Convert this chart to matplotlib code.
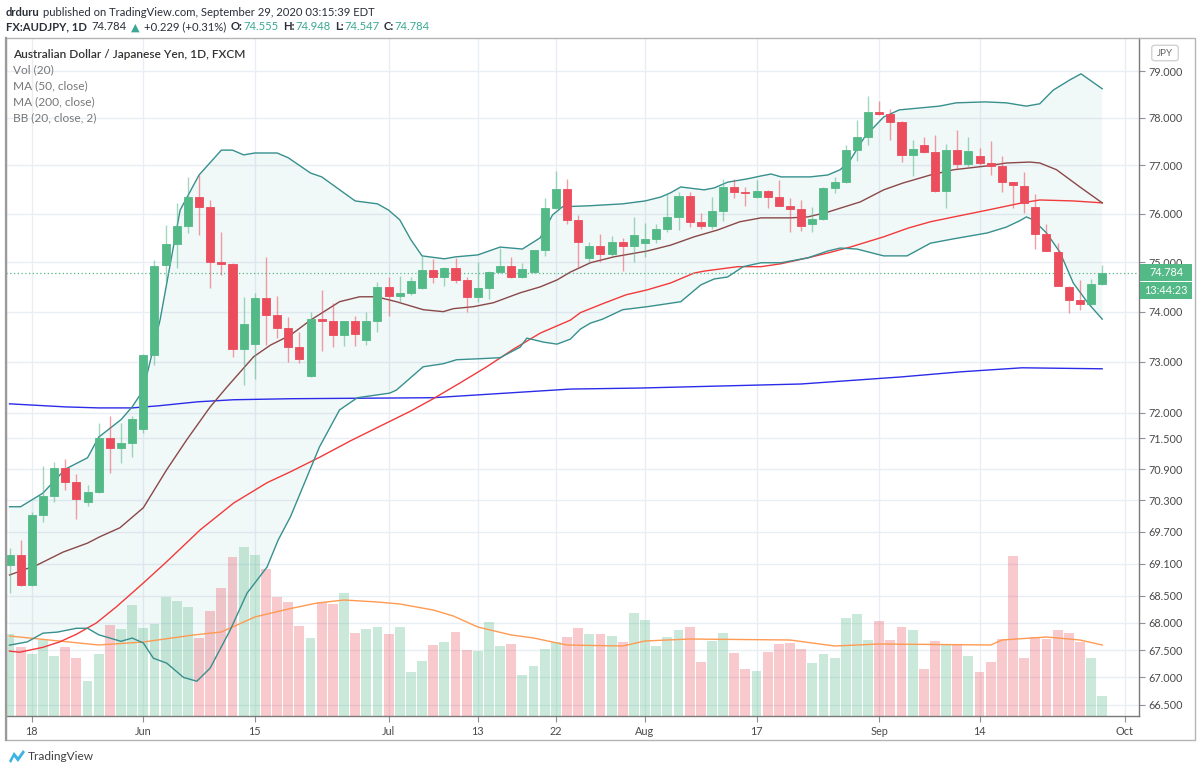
import numpy as np
import pandas as pd
import matplotlib
matplotlib.use('Agg')
import matplotlib.pyplot as plt
from matplotlib.patches import Polygon, Rectangle, FancyBboxPatch
from matplotlib import transforms
from matplotlib.ticker import NullLocator, NullFormatter

# ---------------- data ----------------
start_date = '2020-05-14'
end_date = '2020-09-29'

opens = [69.08, 69.27, 68.71, 70.02, 70.39, 70.92, 70.65, 70.27, 70.46, 71.50,
         71.31, 71.41, 71.68, 73.13, 74.95, 75.37, 75.74, 76.34, 76.14, 75.00,
         74.97, 73.25, 73.35, 74.28, 73.93, 73.67, 73.29, 72.72, 73.85, 73.81,
         73.53, 73.81, 73.43, 73.81, 74.50, 74.32, 74.38, 74.48, 74.84, 74.70,
         74.89, 74.64, 74.30, 74.48, 74.80, 74.93, 74.70, 74.80, 75.25, 76.11,
         76.51, 75.87, 75.09, 75.33, 75.17, 75.42, 75.33, 75.39, 75.48, 75.68,
         75.93, 76.36, 75.83, 75.74, 76.05, 76.55, 76.45, 76.34, 76.47, 76.34,
         76.16, 76.09, 75.79, 75.89, 76.53, 76.65, 77.32, 77.60, 78.13, 78.08,
         77.92, 77.22, 77.43, 77.28, 76.47, 77.32, 77.03, 77.20, 77.05, 76.99,
         76.65, 76.57, 76.14, 75.58, 75.21, 74.50, 74.24, 74.16, 74.555]
highs = [69.40, 69.55, 70.08, 70.96, 71.04, 71.10, 70.81, 70.60, 71.80, 71.93,
         71.80, 71.93, 73.15, 75.05, 75.77, 76.22, 76.76, 76.80, 76.28, 75.62,
         74.99, 74.30, 74.38, 75.11, 74.32, 73.89, 73.59, 74.00, 74.44, 74.18,
         73.82, 73.91, 74.00, 74.60, 74.70, 74.72, 74.70, 75.13, 75.07, 74.91,
         75.09, 74.70, 75.01, 74.82, 75.29, 75.11, 74.99, 75.26, 76.32, 76.88,
         76.72, 75.97, 75.42, 75.58, 75.54, 75.50, 75.93, 75.81, 75.79, 76.40,
         76.45, 76.45, 76.01, 76.34, 76.72, 76.72, 76.55, 76.70, 76.49, 76.70,
         76.32, 76.28, 76.14, 76.55, 76.76, 77.43, 77.96, 78.47, 78.36, 78.19,
         77.93, 77.53, 77.60, 77.64, 77.45, 77.75, 77.60, 77.36, 77.51, 77.20,
         76.66, 76.86, 76.40, 75.79, 75.39, 74.51, 74.64, 74.66, 74.948]
lows = [68.56, 68.68, 68.68, 69.89, 70.27, 70.50, 69.95, 70.19, 70.44, 70.83,
        71.02, 71.14, 71.60, 72.94, 74.58, 74.89, 75.60, 75.56, 74.48, 74.74,
        73.10, 72.54, 72.66, 73.33, 73.47, 73.00, 72.98, 72.70, 73.21, 73.29,
        73.31, 73.31, 73.33, 73.59, 73.91, 74.20, 74.34, 74.46, 74.58, 74.52,
        74.58, 74.00, 74.20, 74.26, 74.78, 74.69, 74.69, 74.79, 75.13, 76.10,
        75.79, 74.91, 75.01, 75.01, 75.13, 74.82, 75.01, 75.11, 75.39, 75.62,
        75.66, 75.72, 75.68, 75.68, 75.85, 76.32, 76.16, 76.33, 76.11, 76.15,
        75.62, 75.64, 75.62, 75.87, 76.43, 76.63, 77.09, 77.43, 78.07, 77.53,
        77.07, 76.78, 77.26, 76.45, 76.11, 76.93, 76.97, 77.01, 76.80, 76.45,
        76.11, 76.01, 75.27, 75.22, 74.51, 73.98, 74.04, 74.14, 74.547]
closes = [69.27, 68.71, 70.02, 70.39, 70.92, 70.65, 70.33, 70.46, 71.50, 71.31,
          71.41, 71.88, 73.13, 74.93, 75.37, 75.74, 76.34, 76.14, 75.01, 74.97,
          73.25, 73.75, 74.28, 73.93, 73.67, 73.29, 73.06, 73.85, 73.81, 73.53,
          73.81, 73.55, 73.81, 74.50, 74.32, 74.38, 74.62, 74.84, 74.70, 74.89,
          74.64, 74.30, 74.48, 74.80, 74.93, 74.70, 74.86, 75.25, 76.11, 76.51,
          75.87, 75.42, 75.33, 75.17, 75.42, 75.33, 75.56, 75.48, 75.68, 75.93,
          76.36, 75.83, 75.74, 76.05, 76.55, 76.45, 76.43, 76.47, 76.34, 76.16,
          76.09, 75.74, 75.89, 76.53, 76.65, 77.32, 77.60, 78.13, 78.08, 77.92,
          77.22, 77.34, 77.28, 76.47, 77.32, 77.03, 77.30, 77.05, 76.99, 76.65,
          76.59, 76.22, 75.58, 75.23, 74.52, 74.24, 74.16, 74.56, 74.784]
volumes = [82, 69, 62, 76, 60, 69, 58, 35, 62, 91,
           87, 111, 88, 92, 119, 115, 109, 78, 105, 128,
           159, 169, 161, 147, 119, 114, 90, 78, 114, 112,
           123, 83, 87, 89, 82, 89, 44, 55, 71, 74,
           84, 66, 65, 94, 70, 72, 41, 50, 67, 74,
           79, 88, 82, 82, 80, 74, 103, 96, 70, 79,
           86, 89, 54, 75, 83, 63, 47, 45, 64, 72,
           73, 67, 53, 62, 58, 98, 102, 76, 95, 76,
           89, 86, 47, 75, 72, 72, 60, 44, 54, 77,
           160, 58, 79, 77, 86, 83, 74, 58, 20]

# indicator lines, sampled (candle number, 1-based -> value)
bb_up_pos = [1, 2, 4, 6, 8, 9, 11, 12, 13, 14.5, 16.3, 18, 20, 21, 22, 23, 25, 26, 28, 29,
             32, 34, 35, 36, 37, 38, 40, 41, 43, 45, 47, 48.6, 49.7, 50.6, 53, 56, 58, 59.4, 60.3, 61.2,
             63.3, 64.2, 65.4, 67.2, 68.4, 69.3, 70.2, 72.8, 74.4, 75.5, 76.4, 77.7, 79.4, 80.8, 84.4, 85.9,
             88.5, 90.4, 92.2, 93.4, 94.6, 96.1, 97.1, 99]
bb_up_val = [70.18, 70.18, 70.44, 70.90, 71.12, 71.52, 71.86, 72.11, 72.44, 73.83, 76.07, 76.80, 77.32, 77.32,
             77.22, 77.26, 77.26, 77.16, 76.84, 76.76, 76.26, 76.20, 76.07, 75.87, 75.46, 75.13, 75.07, 75.11,
             75.15, 75.31, 75.27, 75.50, 75.97, 76.14, 76.16, 76.20, 76.26, 76.34, 76.43, 76.55, 76.49, 76.53,
             76.65, 76.72, 76.78, 76.82, 76.76, 76.76, 76.80, 76.91, 77.11, 77.60, 78.02, 78.17, 78.25, 78.32,
             78.34, 78.32, 78.25, 78.30, 78.59, 78.81, 78.94, 78.62]
bb_lo_pos = [1, 2.6, 4, 5.3, 7, 8, 9, 11, 12, 13, 13.9, 15.1, 16.6, 17.8, 19, 20.8, 22.3, 24.1, 25.1, 26.2,
             27, 28.8, 30.6, 32.2, 35.1, 35.7, 38.1, 39.9, 41.1, 43.2, 45, 46.8, 47.4, 48.9, 50.1, 51.3, 52.2,
             53.1, 54.2, 56, 58.2, 59.4, 61.2, 63, 64.2, 65.4, 66.8, 68.4, 70.2, 72.6, 74.4, 75.5, 77, 79.4,
             81.5, 83.6, 85.7, 88.7, 90.4, 91.6, 92.2, 92.8, 94, 95.2, 96.4, 97.7, 99]
bb_lo_val = [67.59, 67.65, 67.81, 67.83, 67.90, 67.90, 67.78, 67.66, 67.72, 67.63, 67.35, 67.26, 67.00, 66.93,
             67.17, 67.87, 68.55, 69.04, 69.55, 69.99, 70.40, 71.33, 72.05, 72.29, 72.38, 72.44, 72.90, 72.96,
             73.04, 73.06, 73.08, 73.29, 73.47, 73.39, 73.35, 73.45, 73.65, 73.77, 73.85, 74.04, 74.10, 74.14,
             74.20, 74.54, 74.66, 74.70, 74.91, 74.99, 74.99, 75.09, 75.23, 75.29, 75.27, 75.13, 75.13, 75.39,
             75.48, 75.60, 75.72, 75.85, 75.93, 75.87, 75.60, 75.21, 74.58, 74.18, 73.85]
bb_mid_pos = [1, 3.5, 5.8, 8, 9.1, 10.9, 13, 15.1, 16.9, 19, 20.5, 22.9, 24.4, 26.2, 28, 30.6, 32.4, 33.9,
              35.7, 37.2, 38.1, 39.9, 40.8, 42.6, 44.4, 46.8, 48.6, 50.1, 51.3, 53.1, 55.2, 58.2, 60.3, 62.4,
              64.5, 66.5, 68.4, 71, 72.6, 74.4, 75.5, 77.3, 79.4, 81.1, 83.6, 85.7, 88.7, 90.4, 92.5, 93.4,
              94.9, 97, 99]
bb_mid_val = [68.89, 69.08, 69.32, 69.49, 69.61, 69.78, 70.16, 70.89, 71.47, 72.11, 72.50, 73.10, 73.33,
              73.53, 73.83, 74.20, 74.30, 74.30, 74.20, 74.10, 74.04, 74.00, 74.06, 74.10, 74.18, 74.38,
              74.50, 74.64, 74.80, 74.99, 75.11, 75.23, 75.35, 75.52, 75.66, 75.83, 75.91, 75.91, 75.93,
              76.03, 76.11, 76.24, 76.49, 76.63, 76.80, 76.91, 76.99, 77.05, 77.07, 77.05, 76.91, 76.55, 76.22]
ma50_pos = [1, 1.9, 4, 5.5, 7, 8.8, 10.6, 13, 15.1, 18.1, 21.1, 24.1, 26.2, 28.9, 31.6, 34.3, 37, 39, 41.4,
            43.8, 46.2, 48.6, 51.3, 52.2, 54.2, 56.3, 58.2, 60.3, 62.4, 63.3, 66.3, 68.4, 70.2, 72.6, 74.4,
            76.4, 79.4, 81.6, 83.6, 85.7, 88.7, 91.8, 93.4, 96.4, 99]
ma50_val = [67.48, 67.46, 67.55, 67.65, 67.79, 68.00, 68.30, 68.74, 69.14, 69.74, 70.25, 70.64, 70.85, 71.14,
            71.45, 71.74, 72.03, 72.27, 72.58, 72.90, 73.25, 73.57, 73.83, 73.98, 74.16, 74.34, 74.44, 74.58,
            74.78, 74.82, 74.91, 74.91, 74.97, 75.09, 75.19, 75.31, 75.52, 75.70, 75.83, 75.93, 76.07, 76.22,
            76.28, 76.26, 76.22]
ma200_pos = [1, 6, 9, 12, 14.3, 17.9, 21.1, 26.2, 39, 51.3, 57.5, 72, 81, 86.3, 91.8, 99]
ma200_val = [72.17, 72.11, 72.09, 72.09, 72.13, 72.21, 72.25, 72.27, 72.29, 72.46, 72.48, 72.56, 72.70,
             72.80, 72.88, 72.86]
vol_ma_pos = [1, 9, 13, 17.5, 20, 23, 26, 28.6, 31, 34, 36, 39, 40.8, 43, 46, 48, 51, 56, 58, 62, 71, 75,
              79, 89, 90, 94, 97, 99]
vol_ma_val = [80, 71, 74, 81, 84, 99, 107, 113, 116, 114, 112, 106, 100, 89, 81, 78, 71, 70, 75, 77, 76,
              70, 72, 71, 76, 79, 76, 71]

price_ticks = [79.0, 78.0, 77.0, 76.0, 75.0, 74.0, 73.0, 72.0, 71.5, 70.9, 70.3, 69.7, 69.1, 68.5,
               68.0, 67.5, 67.0, 66.5]
date_ticks = ['2020-05-18', '2020-06-01', '2020-06-15', '2020-07-01', '2020-07-13', '2020-07-22',
              '2020-08-03', '2020-08-17', '2020-09-01', '2020-09-14', '2020-10-01']
date_tick_labels = ['18', 'Jun', '15', 'Jul', '13', '22', 'Aug', '17', 'Sep', '14', 'Oct']

last_price = 74.784
countdown = '13:44:23'

# ---------------- style ----------------
W, H = 1200, 774
FONT = ['Lato', 'DejaVu Sans']
UP = '#53b987'
DN = '#eb4d5c'
TEAL_TXT = '#3aa894'
TXT = '#2a2e39'

dates = pd.bdate_range(start_date, end_date)
x = np.arange(len(dates))
ext_days = pd.bdate_range(start_date, '2020-10-09')
tick_pos = [ext_days.get_loc(pd.Timestamp(d)) for d in date_ticks]

o = np.array(opens); h = np.array(highs); l = np.array(lows); c = np.array(closes)
up = c >= o

fig = plt.figure(figsize=(W / 100, H / 100), dpi=100)
fig.patch.set_facecolor('white')
left_px, right_px, top_px, bot_px = 6, 1139, 38, 716
rect = [left_px / W, (H - bot_px) / H, (right_px - left_px) / W, (bot_px - top_px) / H]
ax_v = fig.add_axes(rect, zorder=1)
ax = fig.add_axes(rect, zorder=2)
ax.set_facecolor('none')

xlim = (-0.314, 101.3)
ax.set_yscale('log')
ax.set_xlim(*xlim)
ax.set_ylim(66.301, 79.712)
ax_v.set_xlim(*xlim)
ax_v.set_ylim(0, 678)
ax_v.set_axis_off()

# grid (under everything)
hbl = transforms.blended_transform_factory(ax_v.transAxes, ax.transData)
for p in price_ticks:
    ax_v.plot([0, 1], [p, p], transform=hbl, color='#e8eef3', lw=1, zorder=0)
for tp in tick_pos:
    ax_v.axvline(tp, color='#e8eef3', lw=1, zorder=0)

# Bollinger fill
ux = np.array(bb_up_pos) - 1
lx = np.array(bb_lo_pos) - 1
poly = Polygon(np.column_stack([np.concatenate([ux, lx[::-1]]),
                                np.concatenate([bb_up_val, bb_lo_val[::-1]])]),
               closed=True, transform=ax.transData, facecolor='#1f8f8f', alpha=0.06,
               edgecolor='none', zorder=1)
ax_v.add_patch(poly)

# volume bars
vcols = [UP if u else DN for u in up]
ax_v.bar(x, volumes, width=0.88, color=vcols, alpha=0.3, zorder=2, linewidth=0)
ax_v.plot(np.array(vol_ma_pos) - 1, vol_ma_val, color='#ff9a52', lw=1.0, zorder=3)
ax_v.set_xlim(*xlim)
ax_v.set_ylim(0, 678)

# indicator lines
ax.plot(np.array(ma200_pos) - 1, ma200_val, color='#2b2bea', lw=1.0, zorder=2)
ax.plot(np.array(ma50_pos) - 1, ma50_val, color='#f23a3a', lw=1.0, zorder=2)
ax.plot(ux, bb_up_val, color='#37908d', lw=1.0, zorder=2)
ax.plot(lx, bb_lo_val, color='#37908d', lw=1.0, zorder=2)
ax.plot(np.array(bb_mid_pos) - 1, bb_mid_val, color='#8a4848', lw=1.0, zorder=2)

# current price line
ax.axhline(last_price, color=UP, lw=0.9, ls=(0, (1, 2)), zorder=2)

# candles
ccols = np.where(up, UP, DN)
ax.vlines(x, l, h, colors=ccols, lw=1.0, alpha=0.55, zorder=3)
body_lo = np.minimum(o, c)
body_h = np.maximum(np.abs(c - o), 0.012)
ax.bar(x, body_h, bottom=body_lo, width=0.72, color=ccols, edgecolor=ccols, linewidth=0.6, zorder=4)

ax.set_xlim(*xlim)
ax.set_ylim(66.301, 79.712)

# axes decoration
ax.yaxis.tick_right()
ax.set_yticks(price_ticks)
ax.set_yticklabels([f'{v:.3f}' for v in price_ticks])
ax.yaxis.set_minor_locator(NullLocator())
ax.yaxis.set_minor_formatter(NullFormatter())
ax.set_xticks(tick_pos)
ax.set_xticklabels(date_tick_labels)
ax.tick_params(axis='y', which='major', length=4, width=0.8, color='#8a8f98', labelsize=7.8,
               labelcolor='#4a4a4a', pad=3)
ax.tick_params(axis='x', length=4, width=0.8, color='#8a8f98', labelsize=7.8,
               labelcolor='#4a4a4a', pad=3)
for lab in ax.get_xticklabels() + ax.get_yticklabels():
    lab.set_family(FONT)
for s in ['left', 'top']:
    ax.spines[s].set_visible(False)
for s in ['right', 'bottom']:
    ax.spines[s].set_color('#7a7a7a')
    ax.spines[s].set_linewidth(1.0)

# outer frame
fig.add_artist(Rectangle((6 / W, (H - 740) / H), 1189 / W, 702 / H, transform=fig.transFigure,
                         fill=False, edgecolor='#b4b4b4', lw=1.0, zorder=10))
fig.add_artist(plt.Line2D([6 / W, 6 / W], [(H - 740) / H, (H - 38) / H], transform=fig.transFigure,
                          color='#9a9a9a', lw=1.6, zorder=11))

# price labels on axis
fig.canvas.draw()
renderer = fig.canvas.get_renderer()
yc = ax.transData.transform((0, last_price))[1]
fig.add_artist(Rectangle((1140 / W, (yc - 8.5) / H), 52 / W, 17 / H, transform=fig.transFigure,
                         facecolor=UP, edgecolor='none', zorder=12))
fig.text(1166 / W, yc / H, f'{last_price:.3f}', color='white', fontsize=7.8, family=FONT,
         ha='center', va='center', zorder=13)
fig.add_artist(Rectangle((1140 / W, (yc - 26) / H), 52 / W, 17 / H, transform=fig.transFigure,
                         facecolor=UP, edgecolor='none', zorder=12))
fig.text(1166 / W, (yc - 17.5) / H, countdown, color='white', fontsize=7.8, family=FONT,
         ha='center', va='center', zorder=13)

# JPY box
fig.add_artist(FancyBboxPatch((1153 / W, (H - 60) / H), 24 / W, 14 / H, transform=fig.transFigure,
                              boxstyle='round,pad=0.001,rounding_size=0.003', facecolor='white',
                              edgecolor='#c8c8c8', lw=0.8, zorder=12))
fig.text(1165 / W, (H - 53) / H, 'JPY', color='#666666', fontsize=7, family=FONT,
         ha='center', va='center', zorder=13)


# header rows
def draw_row(pieces, x_px, y_px, size):
    xx = x_px
    for txt, col, wt, gap in pieces:
        t = fig.text(xx / W, 1 - y_px / H, txt, color=col, fontsize=size, fontweight=wt,
                     family=FONT, ha='left', va='center', zorder=14)
        bb = t.get_window_extent(renderer=renderer)
        xx = bb.x1 + gap
    return xx


probe = fig.text(0, 0, 'drduru published on TradingView.com, September 29, 2020 03:15:39 EDT',
                 fontsize=10, family=FONT)
pw = probe.get_window_extent(renderer=renderer).width
probe.remove()
hsize = 10 * 370 / pw

draw_row([('drduru', TXT, 'bold', 3.0),
          ('published on TradingView.com, September 29, 2020 03:15:39 EDT', TXT, 'normal', 0)],
         6, 12, hsize)
draw_row([('FX:AUDJPY, 1D', TXT, 'bold', 5),
          ('74.784', TXT, 'normal', 4),
          ('▲', TEAL_TXT, 'normal', 4),
          ('+0.229 (+0.31%)', TXT, 'normal', 5),
          ('O:', TXT, 'bold', 1), ('74.555', TEAL_TXT, 'normal', 4),
          ('H:', TXT, 'bold', 1), ('74.948', TEAL_TXT, 'normal', 4),
          ('L:', TXT, 'bold', 1), ('74.547', TEAL_TXT, 'normal', 4),
          ('C:', TXT, 'bold', 1), ('74.784', TEAL_TXT, 'normal', 0)],
         6, 27, hsize)

# legend inside chart
fig.text(13 / W, 1 - 54 / H, 'Australian Dollar / Japanese Yen, 1D, FXCM', color='#333333',
         fontsize=hsize * 1.05, fontweight='semibold', family=FONT, ha='left', va='center', zorder=14)
for txt, yy in [('Vol (20)', 70), ('MA (50, close)', 86), ('MA (200, close)', 102),
                ('BB (20, close, 2)', 118)]:
    fig.text(13 / W, 1 - yy / H, txt, color='#777777', fontsize=hsize * 1.05, family=FONT,
             ha='left', va='center', zorder=14)

# TradingView footer
fig.add_artist(Polygon([[9 / W, 1 - 761 / H], [14 / W, 1 - 752 / H], [18 / W, 1 - 757 / H],
                        [23 / W, 1 - 750 / H], [25 / W, 1 - 752 / H], [18 / W, 1 - 762 / H],
                        [14 / W, 1 - 757 / H], [11 / W, 1 - 763 / H]], closed=True,
                       transform=fig.transFigure, facecolor='#3bb3e4', edgecolor='none', zorder=14))
fig.text(28 / W, 1 - 757 / H, 'TradingView', color='#404040', fontsize=hsize * 1.05, family=FONT,
         ha='left', va='center', zorder=14)

fig.savefig('out.png', dpi=100, facecolor='white')
